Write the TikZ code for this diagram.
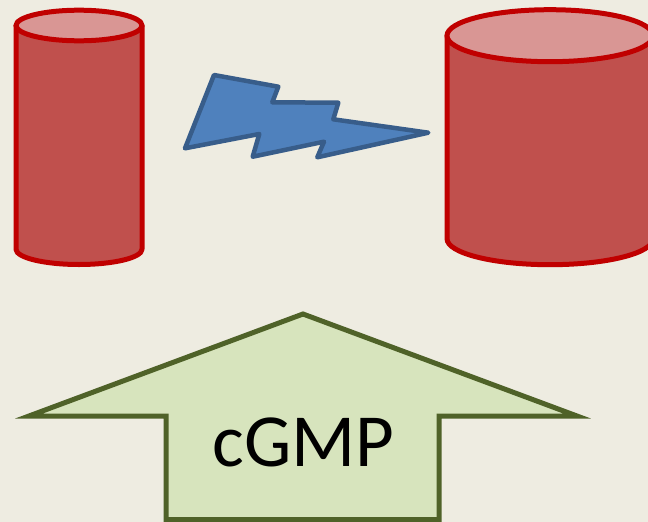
\documentclass[tikz,border=0pt]{standalone}
\usepackage{fontspec}
\setmainfont{Carlito}
\definecolor{paper}{HTML}{EEECE1}
\definecolor{cylside}{HTML}{C0504D}
\definecolor{cyltop}{HTML}{D99694}
\definecolor{cylline}{HTML}{C00000}
\definecolor{boltfill}{HTML}{4F81BD}
\definecolor{boltline}{HTML}{385D8A}
\definecolor{arrowfill}{HTML}{D7E4BD}
\definecolor{arrowline}{HTML}{4F6228}
\tikzset{
  cylbody/.style={fill=cylside},
  cylrim/.style={draw=cylline, line width=5pt, line join=round},
  cylcap/.style={fill=cyltop, draw=cylline, line width=5pt},
  bolt/.style={fill=boltfill, draw=boltline, line width=4.5pt, line join=round},
  bigarrow/.style={fill=arrowfill, draw=arrowline, line width=5pt, line join=miter},
  arrowtext/.style={font=\fontsize{75}{90}\selectfont, text=black, inner sep=0pt, anchor=base}
}
% cylinder: centre x, top cap centre y, bottom cap centre y, x radius, y radius
\newcommand{\drumshape}[5]{%
  \path[cylbody] (#1-#4,#2) -- (#1-#4,#3)
    arc[start angle=180, end angle=0, x radius=#4, y radius=#5] -- (#1+#4,#2) -- cycle;
  \draw[cylrim] (#1-#4,#2) -- (#1-#4,#3)
    arc[start angle=180, end angle=0, x radius=#4, y radius=#5] -- (#1+#4,#2);
  \draw[cylcap] (#1,#2) ellipse[x radius=#4, y radius=#5];
}
\begin{document}
\begin{tikzpicture}[x=1pt, y=-1pt]
  \useasboundingbox (0,0) rectangle (648,522);
  \fill[paper] (0,0) rectangle (648,522);
  \clip (0,0) rectangle (648,522);

  % two storage cylinders
  \drumshape{79}{25.5}{249.2}{63}{15.3}
  \drumshape{550}{35.7}{238.7}{103}{26}

  % lightning bolt between them
  \draw[bolt] (214,75) -- (278.3,86.7) -- (272.3,102.3) -- (338.3,102.7)
    -- (333.3,119.3) -- (428.3,132.7) -- (317.3,157.3) -- (324,141.7)
    -- (252.7,156.7) -- (259.3,134) -- (185,148.3) -- cycle;

  % upward block arrow
  \draw[bigarrow] (303,314) -- (577,416) -- (439,416) -- (439,519.5)
    -- (166,519.5) -- (166,416) -- (29,416) -- cycle;
  \node[arrowtext] (cgmp) at (303.5,466.7) {cGMP};
\end{tikzpicture}
\end{document}
